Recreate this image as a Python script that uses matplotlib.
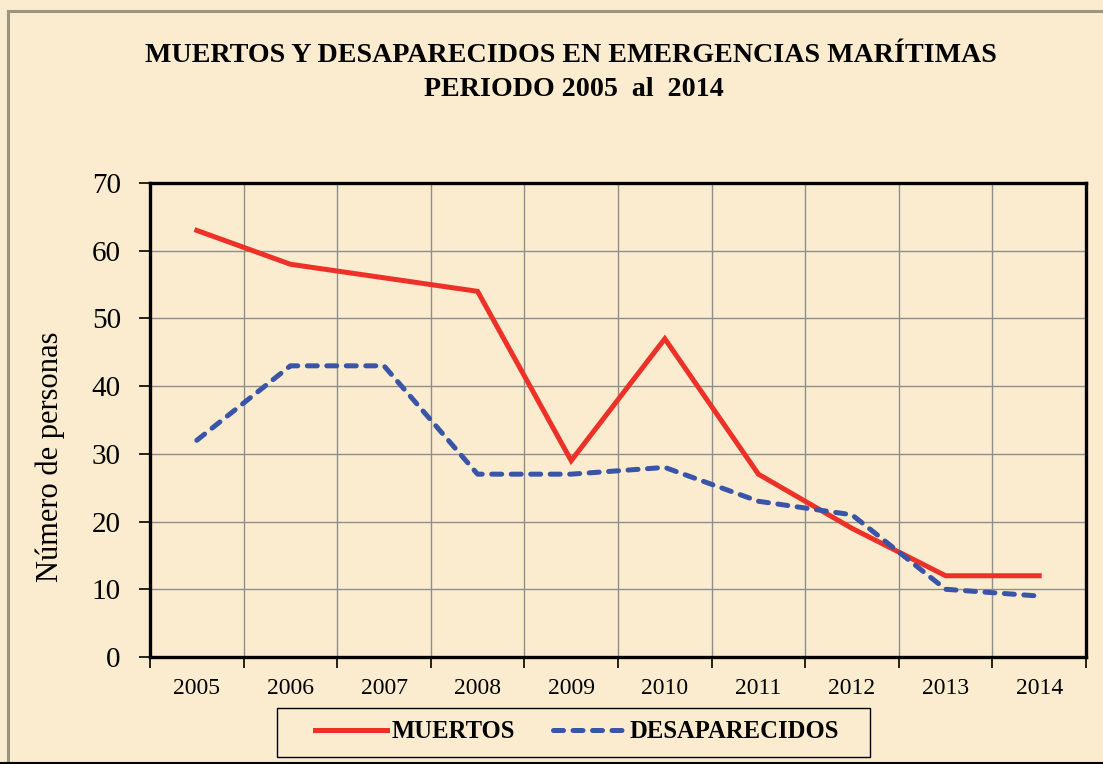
"""
    muertos y desaparecidos en emergencias maritimas
    line chart 2005 - 2014
"""

import numpy as np
import matplotlib
import matplotlib.pyplot as plt
from matplotlib.lines import Line2D
from matplotlib.patches import Rectangle
matplotlib.rcParams['font.family'] = ["Liberation Serif", "DejaVu Serif"]

# %%
years = ["2005", "2006", "2007", "2008", "2009", "2010", "2011", "2012", "2013", "2014"]
muertos = [63, 58, 56, 54, 29, 47, 27, 19, 12, 12]
desaparecidos = [32, 43, 43, 27, 27, 28, 23, 21, 10, 9]
yTicks = [0, 10, 20, 30, 40, 50, 60, 70]

bgCol = "#fbeccf"
redCol = "#ee3128"
blueCol = "#3a55a8"

# %%
fig = plt.figure(figsize=(11.03, 7.64), dpi=100)
fig.patch.set_facecolor(bgCol)

# outer frame of the chart area
fig.add_artist(Line2D([8/1103, 8/1103], [0, 1 - 11/764], color="#9a9580", lw=2.2))
fig.add_artist(Line2D([8/1103, 1], [1 - 11/764, 1 - 11/764], color="#9a9580", lw=2.2))
fig.add_artist(Line2D([0, 1], [1/764, 1/764], color="black", lw=1.5))

ax = fig.add_axes([150/1103, 1 - 657/764, (1086 - 150)/1103, (657 - 183)/764])
ax.set_facecolor(bgCol)

xPos = np.arange(len(years)) + 0.5
ax.plot(xPos, muertos, color=redCol, lw=3.6, solid_joinstyle="miter", label="MUERTOS", zorder=3)
ax.plot(xPos, desaparecidos, color=blueCol, lw=3.6, dashes=(2.0, 1.9), dash_capstyle="round",
        label="DESAPARECIDOS", zorder=3)

ax.set_xlim(0, len(years))
ax.set_ylim(0, 70)
ax.set_yticks(yTicks)
ax.set_xticks(np.arange(len(years) + 1))
ax.set_xticklabels([])
ax.set_xticks(xPos, minor=True)
ax.set_xticklabels(years, minor=True, fontsize=17)
ax.tick_params(axis="x", which="minor", length=0, pad=15)
ax.tick_params(axis="x", which="major", length=8, width=1.2, direction="out")
ax.tick_params(axis="y", length=8, width=1.2, direction="out", labelsize=21, pad=13)

ax.grid(visible=True, which="major", color="#8e8e8e", lw=1.0)
ax.set_axisbelow(True)
for s in ax.spines.values():
    s.set_linewidth(2.4)
    s.set_color("black")

fig.text(50/1103, 1 - 457/764, "Número de personas", rotation=90, ha="center", va="center", fontsize=22)

fig.text(0.518, 1 - 56/764, "MUERTOS Y DESAPARECIDOS EN EMERGENCIAS MARÍTIMAS",
         ha="center", va="center", fontsize=20.2, fontweight="bold")
fig.text(0.52, 1 - 89/764, "PERIODO 2005  al  2014",
         ha="center", va="center", fontsize=20.2, fontweight="bold")

# legend box drawn by hand so the side padding matches
fig.add_artist(Rectangle((277/1103, 1 - 757/764), (870 - 277)/1103, 49/764,
                         transform=fig.transFigure, facecolor="none", edgecolor="black", lw=1.0))
leg = fig.legend(loc="center", bbox_to_anchor=(577/1103, 1 - 732/764), ncol=2, frameon=False,
                 prop={"weight": "bold", "size": 17.7}, handlelength=2.9, columnspacing=1.55,
                 borderpad=0.45, handletextpad=0.2, borderaxespad=0)

plt.savefig("out.png", dpi=100, facecolor=bgCol)
